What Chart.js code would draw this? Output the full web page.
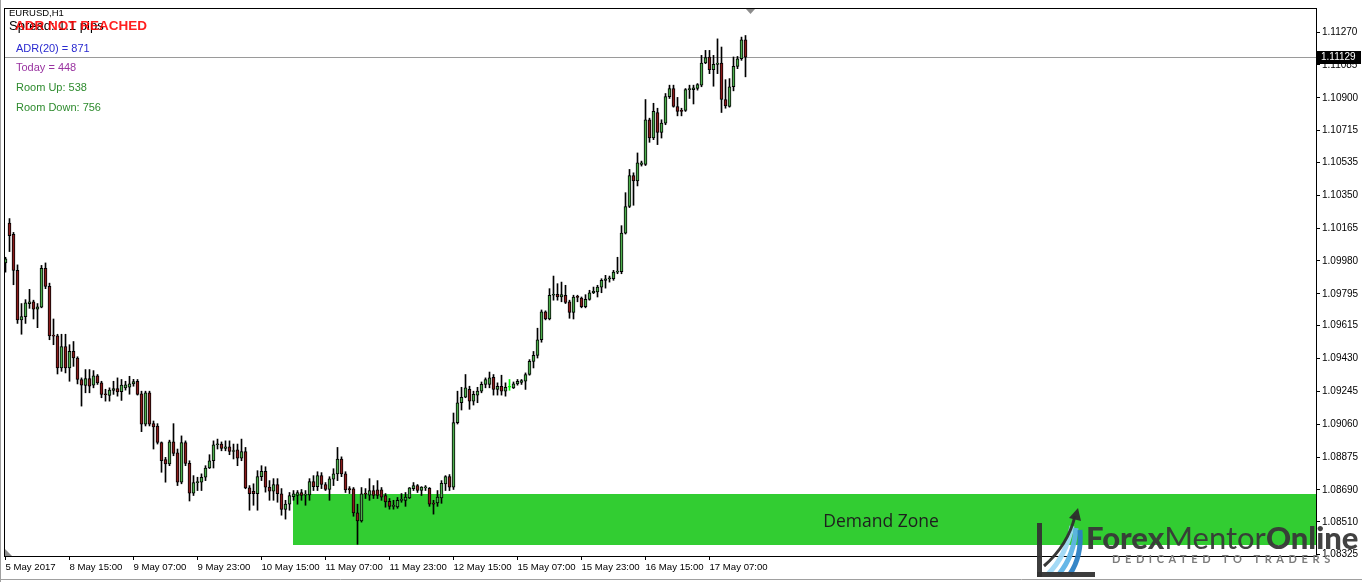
<!DOCTYPE html>
<html>
<head>
<meta charset="utf-8">
<title>EURUSD,H1</title>
<script src="https://cdn.jsdelivr.net/npm/chart.js@4.4.0/dist/chart.umd.min.js"></script>
<style>
  body { margin: 0; background: #fff; overflow: hidden; }
  #wrap { position: relative; width: 1362px; height: 582px; }
  #wrap canvas { position: absolute; left: 0; top: 0; }
  .t { position: absolute; white-space: nowrap; line-height: 1; font-family: "Liberation Sans", Arial, sans-serif; }
  .logo { position: absolute; white-space: nowrap; line-height: 1; font-family: Lato, "Open Sans", sans-serif; }
</style>
</head>
<body>
<div id="wrap">
  <canvas id="chart" width="1362" height="582"></canvas>
  <div class="t" style="left:9px;top:8px;font-size:9.5px;color:#000;">EURUSD,H1</div>
  <div class="t" style="left:9px;top:19px;font-size:13px;color:#000;">Spread: 1.1 pips</div>
  <div class="t" style="left:15px;top:19px;font-size:13.5px;font-weight:bold;color:rgba(255,0,0,0.88);">ADR NOT REACHED</div>
  <div class="t" style="left:16px;top:43px;font-size:11px;color:#2a2ad0;">ADR(20) = 871</div>
  <div class="t" style="left:16px;top:62px;font-size:11px;color:#9933a0;">Today = 448</div>
  <div class="t" style="left:16px;top:82px;font-size:11px;color:#2e8b2e;">Room Up: 538</div>
  <div class="t" style="left:16px;top:102px;font-size:11px;color:#2e8b2e;">Room Down: 756</div>
  <div class="t" style="left:881px;top:512px;font-size:17.5px;color:#1e1e1e;font-family:'Open Sans',sans-serif;transform:translateX(-50%);">Demand Zone</div>
  <div class="logo" style="left:1086px;top:522px;font-size:31px;color:#383838;opacity:0.95;"><b style="font-weight:900">Forex</b><span style="font-weight:400">Mentor</span><b style="font-weight:900">Online</b></div>
  <div class="logo" style="left:1112px;top:553px;font-size:11px;color:#7c7c7c;letter-spacing:4.6px;font-weight:700;">DEDICATED TO TRADERS</div>
</div>
<script>
// EURUSD H1, bar 0 = 5 May 23:00, bar 1 = 8 May 00:00 ...
const opens = [
  1.09969,1.10193,1.10130,1.09927,1.09648,1.09666,1.09740,1.09750,1.09709,1.09720,
  1.09939,1.09837,1.09558,1.09558,1.09377,1.09498,1.09377,1.09470,1.09433,1.09312,
  1.09278,1.09317,1.09280,1.09332,1.09293,1.09228,1.09222,1.09250,1.09261,1.09244,
  1.09265,1.09268,1.09287,1.09302,1.09231,1.09060,1.09237,1.09063,1.09050,1.08957,
  1.08860,1.08836,1.08960,1.08898,1.08733,1.08957,1.08839,1.08671,1.08731,1.08733,
  1.08761,1.08813,1.08854,1.08944,1.08948,1.08923,1.08932,1.08906,1.08915,1.08869,
  1.08906,1.08701,1.08682,1.08668,1.08764,1.08794,1.08705,1.08682,1.08720,1.08668,
  1.08579,1.08609,1.08652,1.08658,1.08675,1.08660,1.08662,1.08736,1.08708,1.08770,
  1.08720,1.08693,1.08750,1.08780,1.08864,1.08780,1.08697,1.08695,1.08560,1.08515,
  1.08668,1.08660,1.08686,1.08690,1.08690,1.08658,1.08625,1.08597,1.08594,1.08631,
  1.08631,1.08645,1.08696,1.08714,1.08686,1.08701,1.08699,1.08616,1.08616,1.08645,
  1.08724,1.08764,1.08705,1.09069,1.09181,1.09212,1.09256,1.09190,1.09224,1.09246,
  1.09284,1.09284,1.09324,1.09256,1.09274,1.09246,1.09268,1.09265,1.09287,1.09296,
  1.09302,1.09340,1.09414,1.09448,1.09536,1.09694,1.09653,1.09787,1.09792,1.09777,
  1.09787,1.09750,1.09690,1.09777,1.09771,1.09722,1.09764,1.09801,1.09805,1.09833,
  1.09871,1.09880,1.09880,1.09917,1.09920,1.10137,1.10287,1.10462,1.10431,1.10524,
  1.10524,1.10776,1.10673,1.10817,1.10705,1.10757,1.10906,1.10952,1.10851,1.10828,
  1.10828,1.10946,1.10946,1.10952,1.10971,1.11096,1.11130,1.11058,1.11088,1.11096,
  1.10890,1.10851,1.10962,1.11077,1.11120,1.11226
];
const highs = [
  1.10001,1.10219,1.10141,1.09958,1.09740,1.09762,1.09820,1.09759,1.09740,1.09955,
  1.09969,1.09855,1.09653,1.09567,1.09567,1.09567,1.09508,1.09526,1.09440,1.09321,
  1.09368,1.09368,1.09362,1.09340,1.09302,1.09257,1.09265,1.09302,1.09321,1.09312,
  1.09302,1.09330,1.09313,1.09312,1.09246,1.09246,1.09246,1.09078,1.09063,1.08960,
  1.08873,1.08970,1.09063,1.08920,1.08994,1.08966,1.08854,1.08770,1.08761,1.08780,
  1.08826,1.08888,1.08966,1.08976,1.08960,1.08966,1.08966,1.08948,1.08948,1.08976,
  1.08929,1.08714,1.08724,1.08798,1.08826,1.08820,1.08742,1.08753,1.08753,1.08697,
  1.08631,1.08675,1.08686,1.08686,1.08692,1.08686,1.08753,1.08770,1.08792,1.08787,
  1.08731,1.08764,1.08809,1.08929,1.08876,1.08792,1.08708,1.08703,1.08609,1.08703,
  1.08697,1.08753,1.08714,1.08742,1.08703,1.08669,1.08641,1.08631,1.08647,1.08669,
  1.08675,1.08703,1.08731,1.08720,1.08708,1.08714,1.08703,1.08631,1.08686,1.08742,
  1.08770,1.08776,1.09123,1.09246,1.09268,1.09340,1.09274,1.09246,1.09268,1.09298,
  1.09321,1.09354,1.09340,1.09293,1.09336,1.09293,1.09312,1.09298,1.09312,1.09312,
  1.09349,1.09424,1.09470,1.09601,1.09704,1.09699,1.09824,1.09895,1.09852,1.09861,
  1.09843,1.09759,1.09787,1.09787,1.09777,1.09790,1.09815,1.09833,1.09843,1.09880,
  1.09899,1.09895,1.09927,1.10001,1.10179,1.10365,1.10496,1.10477,1.10589,1.10543,
  1.10890,1.10785,1.10869,1.10841,1.10776,1.10924,1.10971,1.10971,1.10902,1.10841,
  1.10952,1.10971,1.10971,1.10980,1.11139,1.11167,1.11167,1.11139,1.11232,1.11186,
  1.11002,1.11008,1.11130,1.11133,1.11242,1.11251
];
const lows = [
  1.09917,1.10033,1.09846,1.09628,1.09567,1.09628,1.09713,1.09653,1.09604,1.09716,
  1.09824,1.09536,1.09508,1.09343,1.09358,1.09349,1.09302,1.09386,1.09287,1.09162,
  1.09237,1.09237,1.09265,1.09284,1.09209,1.09190,1.09190,1.09228,1.09218,1.09194,
  1.09252,1.09229,1.09274,1.09224,1.09018,1.09050,1.09050,1.08920,1.08948,1.08789,
  1.08733,1.08826,1.08882,1.08714,1.08724,1.08826,1.08627,1.08658,1.08686,1.08686,
  1.08742,1.08810,1.08813,1.08920,1.08910,1.08910,1.08888,1.08864,1.08826,1.08854,
  1.08696,1.08575,1.08603,1.08575,1.08742,1.08677,1.08631,1.08631,1.08620,1.08547,
  1.08525,1.08575,1.08631,1.08609,1.08631,1.08603,1.08631,1.08686,1.08686,1.08697,
  1.08686,1.08631,1.08714,1.08742,1.08764,1.08675,1.08669,1.08541,1.08383,1.08508,
  1.08641,1.08631,1.08641,1.08641,1.08631,1.08592,1.08581,1.08581,1.08586,1.08620,
  1.08597,1.08641,1.08686,1.08675,1.08658,1.08686,1.08597,1.08553,1.08597,1.08614,
  1.08686,1.08686,1.08692,1.09061,1.09140,1.09209,1.09144,1.09168,1.09181,1.09237,
  1.09265,1.09265,1.09224,1.09224,1.09224,1.09218,1.09251,1.09261,1.09280,1.09284,
  1.09256,1.09336,1.09377,1.09433,1.09522,1.09648,1.09648,1.09759,1.09759,1.09750,
  1.09740,1.09657,1.09653,1.09750,1.09716,1.09716,1.09759,1.09796,1.09777,1.09801,
  1.09827,1.09861,1.09871,1.09908,1.09908,1.10132,1.10281,1.10294,1.10403,1.10515,
  1.10518,1.10649,1.10664,1.10636,1.10673,1.10748,1.10896,1.10847,1.10798,1.10798,
  1.10823,1.10896,1.10865,1.10943,1.10962,1.11092,1.11036,1.10965,1.11036,1.10817,
  1.10841,1.10847,1.10939,1.11064,1.11111,1.11018
];
const closes = [
  1.09992,1.10123,1.09927,1.09648,1.09666,1.09744,1.09750,1.09709,1.09722,1.09939,
  1.09837,1.09558,1.09556,1.09377,1.09498,1.09377,1.09470,1.09433,1.09312,1.09280,
  1.09317,1.09274,1.09332,1.09293,1.09228,1.09226,1.09252,1.09261,1.09242,1.09280,
  1.09282,1.09287,1.09300,1.09228,1.09060,1.09237,1.09060,1.09044,1.08957,1.08854,
  1.08836,1.08960,1.08895,1.08733,1.08957,1.08839,1.08671,1.08731,1.08733,1.08761,
  1.08813,1.08854,1.08944,1.08948,1.08923,1.08932,1.08906,1.08910,1.08869,1.08906,
  1.08701,1.08668,1.08668,1.08764,1.08794,1.08705,1.08682,1.08720,1.08668,1.08579,
  1.08609,1.08658,1.08668,1.08675,1.08658,1.08662,1.08736,1.08708,1.08770,1.08720,
  1.08693,1.08752,1.08780,1.08864,1.08780,1.08690,1.08690,1.08560,1.08515,1.08668,
  1.08666,1.08686,1.08658,1.08658,1.08649,1.08622,1.08597,1.08599,1.08631,1.08634,
  1.08649,1.08701,1.08714,1.08686,1.08705,1.08703,1.08609,1.08609,1.08649,1.08727,
  1.08764,1.08705,1.09069,1.09181,1.09212,1.09265,1.09190,1.09228,1.09246,1.09284,
  1.09312,1.09321,1.09256,1.09274,1.09246,1.09268,1.09268,1.09287,1.09302,1.09306,
  1.09340,1.09414,1.09448,1.09536,1.09694,1.09653,1.09787,1.09792,1.09777,1.09790,
  1.09746,1.09690,1.09777,1.09775,1.09722,1.09764,1.09801,1.09809,1.09833,1.09871,
  1.09880,1.09885,1.09917,1.09920,1.10137,1.10287,1.10462,1.10431,1.10533,1.10533,
  1.10776,1.10673,1.10823,1.10705,1.10757,1.10906,1.10952,1.10851,1.10823,1.10823,
  1.10946,1.10949,1.10956,1.10974,1.11096,1.11126,1.11058,1.11088,1.11096,1.10890,
  1.10854,1.10962,1.11077,1.11120,1.11226,1.11129
];

const timeLabels = ['5 May 2017','8 May 15:00','9 May 07:00','9 May 23:00','10 May 15:00','11 May 07:00',
  '11 May 23:00','12 May 15:00','15 May 07:00','15 May 23:00','16 May 15:00','17 May 07:00'];
const timeLabelBars = [0,16,32,48,64,80,96,112,128,144,160,176];

const priceTicks = [1.11270,1.11085,1.10900,1.10715,1.10535,1.10350,1.10165,1.09980,1.09795,
  1.09615,1.09430,1.09245,1.09060,1.08875,1.08690,1.08510,1.08325];

const currentPrice = 1.11129;
const zoneStartBar = 72;
const zoneTop = 1.08664;
const zoneBottom = 1.08379;

const bullColor = '#4dae4d';
const bearColor = '#8b1c1c';
const dojiColor = '#00ff00';

function candleColor(i) {
  if (closes[i] > opens[i]) return bullColor;
  if (closes[i] < opens[i]) return bearColor;
  return dojiColor;
}
function lineColor(i) {
  return closes[i] === opens[i] ? dojiColor : '#000';
}

const bodies = opens.map((o, i) => ({ x: i, y: [o, closes[i]] }));
const wicks = lows.map((l, i) => ({ x: i, y: [l, highs[i]] }));

Chart.defaults.font.family = '"Liberation Sans", Arial, sans-serif';
Chart.defaults.font.size = 10;
Chart.defaults.color = '#000';

const overlay = {
  id: 'overlay',
  beforeDatasetsDraw(chart) {
    const { ctx, chartArea: a, scales: { x, y } } = chart;
    ctx.save();
    // demand zone
    const x0 = Math.round(x.getPixelForValue(zoneStartBar) - 0.5);
    const y0 = Math.round(y.getPixelForValue(zoneTop));
    const y1 = Math.round(y.getPixelForValue(zoneBottom));
    ctx.fillStyle = '#32cd32';
    ctx.fillRect(x0, y0, a.right - x0, y1 - y0);
    // bid line
    const py = Math.round(y.getPixelForValue(currentPrice)) + 0.5;
    ctx.strokeStyle = '#9a9a9a';
    ctx.lineWidth = 1;
    ctx.beginPath();
    ctx.moveTo(a.left, py);
    ctx.lineTo(a.right, py);
    ctx.stroke();
    ctx.restore();
  },
  afterDraw(chart) {
    const { ctx, chartArea: a, scales: { y } } = chart;
    ctx.save();
    // plot frame
    ctx.strokeStyle = '#000';
    ctx.lineWidth = 1;
    ctx.strokeRect(a.left + 0.5, a.top + 0.5, a.right - a.left, a.bottom - a.top);
    // window edges
    ctx.strokeStyle = '#a0a0a0';
    ctx.beginPath();
    ctx.moveTo(0.5, 0); ctx.lineTo(0.5, 582);
    ctx.moveTo(0, 579.5); ctx.lineTo(1362, 579.5);
    ctx.stroke();
    // bid price box
    const py = Math.round(y.getPixelForValue(currentPrice));
    ctx.fillStyle = '#000';
    ctx.fillRect(a.right + 1, py - 6, 44, 13);
    ctx.fillStyle = '#fff';
    ctx.font = '10px "Liberation Sans", Arial, sans-serif';
    ctx.textBaseline = 'middle';
    ctx.fillText(currentPrice.toFixed(5), a.right + 5, py + 0.5);
    // shift marker and left marker
    ctx.fillStyle = '#8c8c8c';
    ctx.beginPath();
    ctx.moveTo(746, a.top + 1); ctx.lineTo(755, a.top + 1); ctx.lineTo(750.5, a.top + 6); ctx.closePath();
    ctx.fill();
    ctx.beginPath();
    ctx.moveTo(a.left + 1, a.bottom - 7); ctx.lineTo(a.left + 1, a.bottom); ctx.lineTo(a.left + 8, a.bottom); ctx.closePath();
    ctx.fill();
    // logo mark
    ctx.globalAlpha = 0.95;
    const grads = ['#9fd8f5', '#5fb3e6', '#2b7fc4'];
    for (let k = 0; k < 3; k++) {
      ctx.strokeStyle = grads[k];
      ctx.lineWidth = 5;
      ctx.beginPath();
      ctx.moveTo(1048 + k * 11, 574);
      ctx.quadraticCurveTo(1066 + k * 8, 556, 1072 + k * 4, 526 + k * 2);
      ctx.stroke();
    }
    ctx.strokeStyle = '#2d2d2d';
    ctx.lineWidth = 3;
    ctx.beginPath();
    ctx.moveTo(1044, 566);
    ctx.quadraticCurveTo(1068, 545, 1075, 516);
    ctx.stroke();
    ctx.fillStyle = '#2d2d2d';
    ctx.beginPath();
    ctx.moveTo(1078, 508); ctx.lineTo(1069, 518); ctx.lineTo(1081, 521); ctx.closePath();
    ctx.fill();
    ctx.fillStyle = '#333';
    ctx.fillRect(1037, 523, 5, 54);
    ctx.fillRect(1037, 572, 58, 5);
    ctx.restore();
  }
};

new Chart(document.getElementById('chart'), {
  type: 'bar',
  data: {
    datasets: [
      {
        label: 'body',
        data: bodies,
        grouped: false,
        barThickness: 3,
        minBarLength: 1,
        borderWidth: 1,
        borderSkipped: false,
        borderColor: c => lineColor(c.dataIndex),
        backgroundColor: c => candleColor(c.dataIndex)
      },
      {
        label: 'wick',
        data: wicks,
        grouped: false,
        barThickness: 1,
        minBarLength: 1,
        borderWidth: 0,
        backgroundColor: c => lineColor(c.dataIndex)
      }
    ]
  },
  options: {
    responsive: false,
    animation: false,
    events: [],
    layout: { padding: { left: 4, top: 4, right: 0, bottom: 0 } },
    plugins: { legend: { display: false }, tooltip: { enabled: false } },
    scales: {
      x: {
        type: 'linear',
        position: 'bottom',
        offset: false,
        min: -0.375,
        max: 327.625,
        grid: { drawOnChartArea: false, tickLength: 4, color: '#000', offset: false },
        border: { display: true, color: '#000' },
        afterBuildTicks: s => { s.ticks = timeLabelBars.map(v => ({ value: v })); },
        afterFit: s => { s.height = 26; },
        ticks: {
          autoSkip: false,
          maxRotation: 0,
          align: 'start',
          padding: 2,
          color: '#000',
          font: { size: 9.6 },
          callback: v => timeLabels[timeLabelBars.indexOf(v)]
        }
      },
      y: {
        type: 'linear',
        position: 'right',
        min: 1.08317,
        max: 1.11406,
        grid: { drawOnChartArea: false, tickLength: 4, color: '#000' },
        border: { display: true, color: '#000' },
        afterBuildTicks: s => { s.ticks = priceTicks.map(v => ({ value: v })); },
        afterFit: s => { s.width = 46; },
        ticks: {
          autoSkip: false,
          padding: 2,
          color: '#000',
          callback: v => v.toFixed(5)
        }
      }
    }
  },
  plugins: [overlay]
});
</script>
</body>
</html>
